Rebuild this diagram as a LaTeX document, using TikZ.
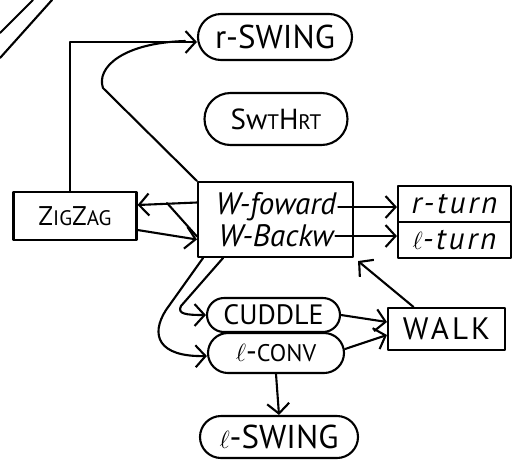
\documentclass[tikz,border=0pt]{standalone}
\usepackage{fontspec}
\setmainfont{PT Sans}
\usetikzlibrary{arrows.meta,calc}
\newcommand\smc[1]{{\fontsize{21}{23}\selectfont #1}}
\begin{document}
\begin{tikzpicture}[x=1pt,y=-1pt,
  line width=2.1pt, line cap=round, line join=round,
  arr/.style={-{Straight Barb[length=10pt,width=22pt]}},
  box/.style={draw, rectangle, inner sep=0pt},
  pill/.style={draw, rectangle, rounded corners=#1, inner sep=0pt},
  pill/.default=18pt,
  big/.style={font=\fontsize{33}{35}\selectfont},
  hand/.style={font=\fontsize{31}{33}\selectfont\itshape, inner sep=1pt}
]
\useasboundingbox (0,0) rectangle (527,464);

% paper corner lines
\draw (0,33) -- (33,0);
\draw (0,58) -- (52,0);

% nodes
\node[pill=23pt, big, minimum width=154pt, minimum height=46pt] (rswing) at (275,37) {r-SWING};
\node[pill=26pt, font=\fontsize{29}{31}\selectfont, minimum width=143pt, minimum height=52pt] (swthrt) at (276,119) {Sw\smc{T}H\smc{RT}};
\node[box, font=\fontsize{27}{29}\selectfont, minimum width=123pt, minimum height=48pt] (zigzag) at (75,216) {Z\smc{IG}Z\smc{AG}};
\node[box, minimum width=155pt, minimum height=75pt] (wbox) at (275.5,219.5) {};
\node[hand] (fwd) at (276,207) {W-foward};
\node[hand] (bwd) at (276,236) {W-Backw};
\node[box, font=\fontsize{31}{33}\selectfont\itshape\addfontfeatures{LetterSpace=9}, inner sep=0pt, minimum width=113pt, minimum height=36pt] (rturn) at (454.5,204) {r-turn};
\node[box, font=\fontsize{31}{33}\selectfont\itshape\addfontfeatures{LetterSpace=9}, inner sep=0pt, minimum width=113pt, minimum height=36pt] (lturn) at (454.5,240) {$\ell$-turn};
\node[pill=17pt, font=\fontsize{28}{30}\selectfont, minimum width=133pt, minimum height=34pt] (cuddle) at (273.5,315) {CUDDLE};
\node[pill=20pt, font=\fontsize{30}{32}\selectfont, minimum width=136pt, minimum height=40pt] (lconv) at (276,353) {$\ell$-{\fontsize{24}{26}\selectfont CONV}};
\node[box, font=\fontsize{31}{33}\selectfont\addfontfeatures{LetterSpace=10}, minimum width=117pt, minimum height=42pt] (walk) at (446.5,329) {WALK};
\node[pill=21pt, big, minimum width=158pt, minimum height=42pt] (lswing) at (279,437) {$\ell$-SWING};

% connectors
\draw[arr] ([xshift=-5pt]zigzag.north) |- ([yshift=-5pt]rswing.west);
\coordinate (cA) at (103,88);
\coordinate (cB) at (185,41);
\draw (wbox.north west) -- (cA) .. controls (96,68) and (122,43) .. (cB);

\draw[arr] ([yshift=17pt]wbox.west) -- ([yshift=11pt]zigzag.east);
\coordinate (fork) at (167,203);
\draw[arr] ([yshift=-14pt]zigzag.east) -- ([yshift=-20pt]wbox.west);
\draw (fork) -- ([yshift=-17pt]wbox.west);

\draw[arr] (fwd.east) -- (fwd.east -| rturn.west);
\draw[arr] (bwd.east) -- (bwd.east -| lturn.west);

\draw[arr] ([xshift=-33pt]walk.north) -- ([xshift=4pt,yshift=-3pt]wbox.south east);

\coordinate (inA) at ([xshift=-52.5pt]wbox.south);
\coordinate (outA) at ([xshift=-72.5pt]wbox.south);
\draw[arr] (inA) -- (181,306) .. controls (177,314) and (186,315) .. (cuddle.west);
\draw[arr] (outA) -- (166,310) .. controls (150,335) and (158,357) .. ([yshift=-3pt]lconv.west);

\draw[arr] (cuddle.east) -- ([yshift=7pt]walk.west);
\draw[arr] ([yshift=4pt]lconv.east) -- ([yshift=-6pt]walk.west);
\draw[arr] (lconv.south) -- (lswing.north);
\end{tikzpicture}
\end{document}
